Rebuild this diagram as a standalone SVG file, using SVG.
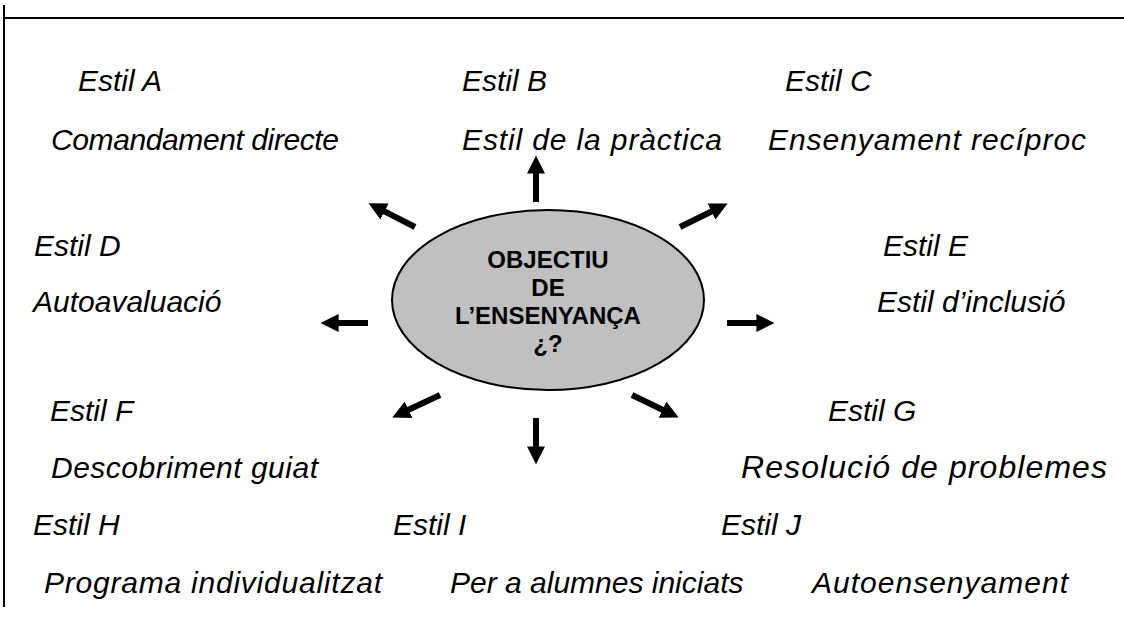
<svg xmlns="http://www.w3.org/2000/svg" width="1124" height="617" viewBox="0 0 1124 617">
<style>
.lbl{font-family:"Liberation Sans",Arial,sans-serif;font-style:italic;font-size:30px;fill:#000}
.ctr{font-family:"Liberation Sans",Arial,sans-serif;font-weight:bold;font-size:24px;fill:#000;text-anchor:middle}
.arr{stroke:#000;stroke-width:6;fill:none;marker-end:url(#head)}
.frame{stroke:#000;stroke-width:2;fill:none}
</style>
<defs>
<marker id="head" viewBox="0 0 3 3" markerWidth="3" markerHeight="3" refX="0.1" refY="1.5" orient="auto" markerUnits="strokeWidth">
<path d="M0,0 L3,1.5 L0,3 z" fill="#000"/>
</marker>
</defs>
<rect width="1124" height="617" fill="#fff"/>
<g id="frame">
<line class="frame" x1="4" y1="18" x2="1124" y2="18"/>
<line class="frame" x1="4" y1="5" x2="4" y2="607"/>
</g>
<g id="center">
<ellipse cx="548" cy="300" rx="156" ry="90" fill="#c0c0c0" stroke="#000" stroke-width="2"/>
<text class="ctr" x="548" y="268">OBJECTIU</text>
<text class="ctr" x="548" y="296">DE</text>
<text class="ctr" x="548" y="324">L’ENSENYANÇA</text>
<text class="ctr" x="548" y="352">¿?</text>
</g>
<g id="connectors">
<line class="arr" x1="536" y1="202" x2="536" y2="173"/>
<line class="arr" x1="536" y1="418" x2="536" y2="447"/>
<line class="arr" x1="368" y1="323" x2="338" y2="323"/>
<line class="arr" x1="727" y1="323" x2="757" y2="323"/>
<line class="arr" x1="415" y1="227" x2="384" y2="211.2"/>
<line class="arr" x1="680" y1="227" x2="712" y2="211.2"/>
<line class="arr" x1="440" y1="395" x2="408" y2="410"/>
<line class="arr" x1="632" y1="395" x2="663" y2="410"/>
</g>
<g id="estilA"><text class="lbl" x="78" y="91">Estil A</text><text class="lbl" x="51" y="150" textLength="288" lengthAdjust="spacing">Comandament directe</text></g>
<g id="estilB"><text class="lbl" x="462" y="91">Estil B</text><text class="lbl" x="462" y="150" textLength="260" lengthAdjust="spacing">Estil de la pràctica</text></g>
<g id="estilC"><text class="lbl" x="785" y="91">Estil C</text><text class="lbl" x="768" y="150" textLength="318" lengthAdjust="spacing">Ensenyament recíproc</text></g>
<g id="estilD"><text class="lbl" x="34" y="256">Estil D</text><text class="lbl" x="33" y="312">Autoavaluació</text></g>
<g id="estilE"><text class="lbl" x="883" y="256">Estil E</text><text class="lbl" x="877" y="312">Estil d’inclusió</text></g>
<g id="estilF"><text class="lbl" x="50" y="421">Estil F</text><text class="lbl" x="51" y="478" textLength="267" lengthAdjust="spacing">Descobriment guiat</text></g>
<g id="estilG"><text class="lbl" x="828" y="421">Estil G</text><text class="lbl" x="741" y="478" style="font-size:32px" textLength="366" lengthAdjust="spacing">Resolució de problemes</text></g>
<g id="estilH"><text class="lbl" x="33" y="535">Estil H</text><text class="lbl" x="44" y="593" textLength="338" lengthAdjust="spacing">Programa individualitzat</text></g>
<g id="estilI"><text class="lbl" x="393" y="535">Estil I</text><text class="lbl" x="450" y="593">Per a alumnes iniciats</text></g>
<g id="estilJ"><text class="lbl" x="721" y="535">Estil J</text><text class="lbl" x="812" y="593" textLength="256" lengthAdjust="spacing">Autoensenyament</text></g>
</svg>
